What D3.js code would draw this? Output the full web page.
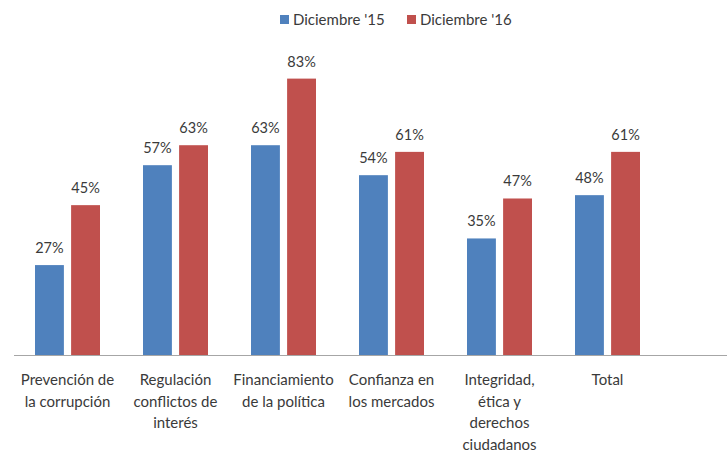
<!DOCTYPE html>
<html>
<head>
<meta charset="utf-8">
<script src="https://cdn.jsdelivr.net/npm/d3@7"></script>
<style>
  html, body { margin: 0; padding: 0; background: #fff; }
  svg text { font-family: Lato, "Open Sans", sans-serif; fill: #3a3a3a; }
</style>
</head>
<body>
<svg id="chart" width="727" height="454"></svg>
<script>
const categories = ["Prevención de la corrupción", "Regulación conflictos de interés", "Financiamiento de la política", "Confianza en los mercados", "Integridad, ética y derechos ciudadanos", "Total"];
const categoryLines = [
  ["Prevención de", "la corrupción"],
  ["Regulación", "conflictos de", "interés"],
  ["Financiamiento", "de la política"],
  ["Confianza en", "los mercados"],
  ["Integridad,", "ética y", "derechos", "ciudadanos"],
  ["Total"]
];
const seriesNames = ["Diciembre '15", "Diciembre '16"];
const dic15 = [27, 57, 63, 54, 35, 48];
const dic16 = [45, 63, 83, 61, 47, 61];
const colors = ["#4f81bd", "#c0504d"];

const svg = d3.select("#chart");
const baseY = 355;

const x0 = d3.scaleBand().domain(categories).range([13.5, 661.5]).paddingInner(0).paddingOuter(0);
const x1 = d3.scaleBand().domain(seriesNames).range([21.5, 86.5]).paddingInner(0.2).paddingOuter(0);
const y = d3.scaleLinear().domain([0, 100]).range([baseY, 22]);
const color = d3.scaleOrdinal().domain(seriesNames).range(colors);

const rows = categories.map((c, i) => ({ cat: c, lines: categoryLines[i], vals: [dic15[i], dic16[i]] }));

const groups = svg.append("g").selectAll("g").data(rows).join("g")
  .attr("transform", d => `translate(${x0(d.cat)},0)`);

groups.selectAll("rect").data(d => d.vals.map((v, j) => ({ s: seriesNames[j], v })))
  .join("rect")
  .attr("x", d => x1(d.s))
  .attr("y", d => y(d.v))
  .attr("width", x1.bandwidth())
  .attr("height", d => baseY - y(d.v))
  .attr("fill", d => color(d.s));

groups.selectAll("text.val").data(d => d.vals.map((v, j) => ({ s: seriesNames[j], v })))
  .join("text")
  .attr("class", "val")
  .attr("x", d => x1(d.s) + x1.bandwidth() / 2)
  .attr("y", d => y(d.v) - 12)
  .attr("text-anchor", "middle")
  .attr("font-size", 14.5)
  .text(d => d.v + "%");

// baseline axis
svg.append("line")
  .attr("x1", 14).attr("x2", 727)
  .attr("y1", baseY + 0.5).attr("y2", baseY + 0.5)
  .attr("stroke", "#a6a6a6").attr("stroke-width", 1.2);

// category labels
groups.each(function(d) {
  const g = d3.select(this);
  const t = g.append("text")
    .attr("text-anchor", "middle")
    .attr("font-size", 15);
  d.lines.forEach((ln, k) => {
    t.append("tspan")
      .attr("x", x0.bandwidth() / 2)
      .attr("y", 385 + k * 21.7)
      .text(ln);
  });
});

// legend
const legend = svg.append("g");
const legendX = [280, 407];
seriesNames.forEach((s, i) => {
  legend.append("rect")
    .attr("x", legendX[i]).attr("y", 15)
    .attr("width", 9).attr("height", 9)
    .attr("fill", color(s));
  legend.append("text")
    .attr("x", legendX[i] + 13).attr("y", 25)
    .attr("font-size", 15)
    .text(s);
});
</script>
</body>
</html>
